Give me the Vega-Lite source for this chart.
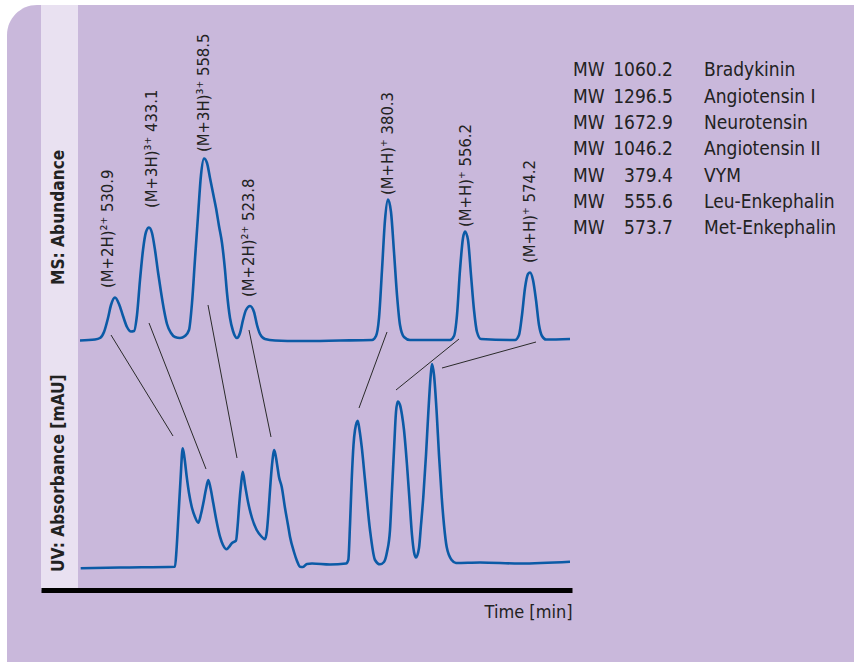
{
  "$schema": "https://vega.github.io/schema/vega-lite/v6.json",
  "width": 531,
  "height": 585,
  "autosize": {"type": "none"},
  "padding": {"left": 41, "top": 5, "right": 282, "bottom": 72},
  "background": "white",
  "config": {"view": {"stroke": null}},
  "datasets": {
    "traces": [
      {"trace":"MS","time":39,"signal":249.5},{"trace":"MS","time":54,"signal":250.5},{"trace":"MS","time":59,"signal":252},{"trace":"MS","time":63,"signal":258},{"trace":"MS","time":67,"signal":272},{"trace":"MS","time":70,"signal":285},{"trace":"MS","time":74,"signal":292.5},{"trace":"MS","time":78,"signal":286},{"trace":"MS","time":82,"signal":274},{"trace":"MS","time":86,"signal":263},{"trace":"MS","time":90,"signal":258.5},{"trace":"MS","time":93,"signal":259},{"trace":"MS","time":96,"signal":275},{"trace":"MS","time":99,"signal":310},{"trace":"MS","time":102,"signal":340},{"trace":"MS","time":105,"signal":358},{"trace":"MS","time":108,"signal":362.5},{"trace":"MS","time":111,"signal":357},{"trace":"MS","time":114,"signal":340},{"trace":"MS","time":117,"signal":318},{"trace":"MS","time":120,"signal":298},{"trace":"MS","time":123,"signal":280},{"trace":"MS","time":126,"signal":266},{"trace":"MS","time":130,"signal":257},{"trace":"MS","time":134,"signal":253},{"trace":"MS","time":139,"signal":252},{"trace":"MS","time":144,"signal":254},{"trace":"MS","time":148,"signal":260},{"trace":"MS","time":151,"signal":287},{"trace":"MS","time":154,"signal":331},{"trace":"MS","time":157,"signal":374},{"trace":"MS","time":160,"signal":415},{"trace":"MS","time":163,"signal":431.5},{"trace":"MS","time":166,"signal":427},{"trace":"MS","time":169,"signal":412},{"trace":"MS","time":172,"signal":397},{"trace":"MS","time":175,"signal":382},{"trace":"MS","time":178,"signal":364},{"trace":"MS","time":181,"signal":347},{"trace":"MS","time":184,"signal":320},{"trace":"MS","time":186,"signal":297},{"trace":"MS","time":189,"signal":272},{"trace":"MS","time":192,"signal":259},{"trace":"MS","time":196,"signal":252},{"trace":"MS","time":199,"signal":257},{"trace":"MS","time":202,"signal":270},{"trace":"MS","time":205,"signal":280},{"trace":"MS","time":209,"signal":284},{"trace":"MS","time":213,"signal":278},{"trace":"MS","time":216,"signal":265},{"trace":"MS","time":219,"signal":256},{"trace":"MS","time":224,"signal":251},{"trace":"MS","time":234,"signal":249.5},{"trace":"MS","time":259,"signal":249},{"trace":"MS","time":299,"signal":249.5},{"trace":"MS","time":331,"signal":250},{"trace":"MS","time":335,"signal":254},{"trace":"MS","time":338,"signal":272},{"trace":"MS","time":341,"signal":320},{"trace":"MS","time":344,"signal":370},{"trace":"MS","time":347,"signal":390.5},{"trace":"MS","time":350,"signal":378},{"trace":"MS","time":353,"signal":338},{"trace":"MS","time":356,"signal":295},{"trace":"MS","time":359,"signal":265},{"trace":"MS","time":363,"signal":253},{"trace":"MS","time":369,"signal":250},{"trace":"MS","time":409,"signal":250},{"trace":"MS","time":413,"signal":254},{"trace":"MS","time":416,"signal":275},{"trace":"MS","time":419,"signal":320},{"trace":"MS","time":422,"signal":352},{"trace":"MS","time":424,"signal":358.5},{"trace":"MS","time":427,"signal":350},{"trace":"MS","time":430,"signal":315},{"trace":"MS","time":433,"signal":280},{"trace":"MS","time":436,"signal":258},{"trace":"MS","time":440,"signal":251},{"trace":"MS","time":474,"signal":250},{"trace":"MS","time":478,"signal":255},{"trace":"MS","time":481,"signal":275},{"trace":"MS","time":484,"signal":302},{"trace":"MS","time":487,"signal":316},{"trace":"MS","time":489,"signal":317.5},{"trace":"MS","time":492,"signal":310},{"trace":"MS","time":495,"signal":290},{"trace":"MS","time":498,"signal":265},{"trace":"MS","time":501,"signal":254},{"trace":"MS","time":505,"signal":250.5},{"trace":"MS","time":529,"signal":251},
      {"trace":"UV","time":39.7,"signal":21.7},{"trace":"UV","time":79,"signal":22.5},{"trace":"UV","time":134,"signal":23.3},{"trace":"UV","time":135.5,"signal":40},{"trace":"UV","time":137.5,"signal":75},{"trace":"UV","time":139.5,"signal":110},{"trace":"UV","time":141.7,"signal":141.7},{"trace":"UV","time":143.5,"signal":132},{"trace":"UV","time":145.7,"signal":113.3},{"trace":"UV","time":148,"signal":97},{"trace":"UV","time":150.7,"signal":83.3},{"trace":"UV","time":154,"signal":73},{"trace":"UV","time":157.3,"signal":67.3},{"trace":"UV","time":160,"signal":76},{"trace":"UV","time":162.3,"signal":86.7},{"trace":"UV","time":165,"signal":101},{"trace":"UV","time":167.3,"signal":110},{"trace":"UV","time":169.5,"signal":102},{"trace":"UV","time":172.3,"signal":86.7},{"trace":"UV","time":175.5,"signal":69},{"trace":"UV","time":179,"signal":53.3},{"trace":"UV","time":182,"signal":45},{"trace":"UV","time":185.7,"signal":40.7},{"trace":"UV","time":188,"signal":43},{"trace":"UV","time":190.7,"signal":46.7},{"trace":"UV","time":195,"signal":49.3},{"trace":"UV","time":196.7,"signal":65},{"trace":"UV","time":198.3,"signal":86.7},{"trace":"UV","time":200,"signal":105},{"trace":"UV","time":201.7,"signal":118.3},{"trace":"UV","time":204,"signal":105},{"trace":"UV","time":207.3,"signal":86.7},{"trace":"UV","time":211,"signal":72},{"trace":"UV","time":215.7,"signal":60},{"trace":"UV","time":220,"signal":54},{"trace":"UV","time":224,"signal":50.7},{"trace":"UV","time":226,"signal":60},{"trace":"UV","time":227.5,"signal":78},{"trace":"UV","time":229,"signal":100},{"trace":"UV","time":231,"signal":125},{"trace":"UV","time":233.3,"signal":140},{"trace":"UV","time":236,"signal":126},{"trace":"UV","time":238,"signal":113},{"trace":"UV","time":240.7,"signal":103.3},{"trace":"UV","time":244,"signal":82},{"trace":"UV","time":247,"signal":65},{"trace":"UV","time":249,"signal":53.3},{"trace":"UV","time":253,"signal":38},{"trace":"UV","time":256,"signal":29},{"trace":"UV","time":259,"signal":23.3},{"trace":"UV","time":262,"signal":23},{"trace":"UV","time":266,"signal":26},{"trace":"UV","time":271,"signal":26.5},{"trace":"UV","time":289,"signal":25.5},{"trace":"UV","time":305,"signal":26.5},{"trace":"UV","time":307.3,"signal":30},{"trace":"UV","time":309,"signal":65},{"trace":"UV","time":310.7,"signal":110},{"trace":"UV","time":312.5,"signal":145},{"trace":"UV","time":314,"signal":160},{"trace":"UV","time":316.7,"signal":169.3},{"trace":"UV","time":318.5,"signal":160},{"trace":"UV","time":320.7,"signal":143.3},{"trace":"UV","time":324,"signal":110},{"trace":"UV","time":329,"signal":60},{"trace":"UV","time":334,"signal":30},{"trace":"UV","time":339,"signal":25.7},{"trace":"UV","time":343,"signal":28},{"trace":"UV","time":346,"signal":38},{"trace":"UV","time":349,"signal":60},{"trace":"UV","time":351,"signal":100},{"trace":"UV","time":353,"signal":140},{"trace":"UV","time":355,"signal":178},{"trace":"UV","time":356.7,"signal":188.5},{"trace":"UV","time":359,"signal":185},{"trace":"UV","time":361,"signal":175},{"trace":"UV","time":363,"signal":160},{"trace":"UV","time":366,"signal":125},{"trace":"UV","time":368.3,"signal":93},{"trace":"UV","time":371,"signal":55},{"trace":"UV","time":373,"signal":38},{"trace":"UV","time":375,"signal":32.5},{"trace":"UV","time":378,"signal":42},{"trace":"UV","time":380,"signal":65},{"trace":"UV","time":382.3,"signal":93},{"trace":"UV","time":385,"signal":135},{"trace":"UV","time":387.3,"signal":177},{"trace":"UV","time":389.5,"signal":212},{"trace":"UV","time":391,"signal":226},{"trace":"UV","time":393,"signal":215},{"trace":"UV","time":395.7,"signal":177},{"trace":"UV","time":398,"signal":135},{"trace":"UV","time":400.7,"signal":93},{"trace":"UV","time":403,"signal":65},{"trace":"UV","time":405.7,"signal":43},{"trace":"UV","time":410.7,"signal":30},{"trace":"UV","time":415,"signal":27},{"trace":"UV","time":439,"signal":27.5},{"trace":"UV","time":479,"signal":26.5},{"trace":"UV","time":529,"signal":28.3}
    ],
    "links": [
      {"ms_time":70,"ms_signal":255,"uv_time":132,"uv_signal":154},
      {"ms_time":108,"ms_signal":267,"uv_time":165,"uv_signal":121},
      {"ms_time":167,"ms_signal":285,"uv_time":196,"uv_signal":132},
      {"ms_time":208,"ms_signal":260,"uv_time":230,"uv_signal":153},
      {"ms_time":346,"ms_signal":258,"uv_time":318,"uv_signal":182},
      {"ms_time":418,"ms_signal":251,"uv_time":355,"uv_signal":200},
      {"ms_time":495,"ms_signal":248,"uv_time":401,"uv_signal":222}
    ],
    "ions": [
      {"label":"(M+2H)²⁺ 530.9","time":67,"signal":302},
      {"label":"(M+3H)³⁺ 433.1","time":111,"signal":382},
      {"label":"(M+3H)³⁺ 558.5","time":163,"signal":438},
      {"label":"(M+2H)²⁺ 523.8","time":208,"signal":293},
      {"label":"(M+H)⁺ 380.3","time":347,"signal":395},
      {"label":"(M+H)⁺ 556.2","time":425,"signal":363},
      {"label":"(M+H)⁺ 574.2","time":489,"signal":327}
    ],
    "peptides": [
      {"mw":"1060.2","peptide":"Bradykinin"},
      {"mw":"1296.5","peptide":"Angiotensin I"},
      {"mw":"1672.9","peptide":"Neurotensin"},
      {"mw":"1046.2","peptide":"Angiotensin II"},
      {"mw":"379.4","peptide":"VYM"},
      {"mw":"555.6","peptide":"Leu-Enkephalin"},
      {"mw":"573.7","peptide":"Met-Enkephalin"}
    ],
    "panels": [
      {"panel":"MS: Abundance","time":17.5,"signal":305},
      {"panel":"UV: Absorbance  [mAU]","time":18,"signal":18}
    ],
    "frame": [
      {"part":"card","x_from":-34,"x_to":900,"y_from":-200,"y_to":585},
      {"part":"strip","x_from":0,"x_to":37,"y_from":0,"y_to":585}
    ]
  },
  "layer": [
    {
      "data": {"name": "frame"},
      "transform": [{"filter": "datum.part === 'card'"}],
      "mark": {"type": "rect", "color": "#c9b8db", "cornerRadius": 30},
      "encoding": {
        "x": {"field": "x_from", "type": "quantitative", "scale": {"domain": [0, 531], "nice": false, "zero": false}},
        "x2": {"field": "x_to"},
        "y": {"field": "y_from", "type": "quantitative", "scale": {"domain": [0, 585], "nice": false, "zero": false}, "axis": null},
        "y2": {"field": "y_to"}
      }
    },
    {
      "data": {"name": "frame"},
      "transform": [{"filter": "datum.part === 'strip'"}],
      "mark": {"type": "rect", "color": "#e9e1f1"},
      "encoding": {
        "x": {"field": "x_from", "type": "quantitative"},
        "x2": {"field": "x_to"},
        "y": {"field": "y_from", "type": "quantitative", "scale": {"domain": [0, 585], "nice": false, "zero": false}, "axis": null},
        "y2": {"field": "y_to"}
      }
    },
    {
      "data": {"name": "traces"},
      "mark": {"type": "line", "color": "#0b5aa6", "strokeWidth": 2.6, "interpolate": "monotone", "strokeJoin": "round"},
      "encoding": {
        "x": {"field": "time", "type": "quantitative",
              "axis": {"title": "Time [min]", "zindex": 2, "domain": true, "domainColor": "#000000", "domainWidth": 5, "ticks": false, "labels": false, "grid": false,
                       "titleAnchor": "end", "titleAlign": "right", "titleFont": "DejaVu Sans Condensed, Liberation Sans, sans-serif", "titleFontSize": 18, "titleFontWeight": "normal", "titleColor": "#222222", "titlePadding": 13}},
        "y": {"field": "signal", "type": "quantitative", "scale": {"domain": [0, 585], "nice": false, "zero": false}, "axis": null},
        "detail": {"field": "trace"}
      }
    },
    {
      "data": {"name": "links"},
      "mark": {"type": "rule", "color": "#2a2a2a", "strokeWidth": 1},
      "encoding": {
        "x": {"field": "ms_time", "type": "quantitative"},
        "y": {"field": "ms_signal", "type": "quantitative", "scale": {"domain": [0, 585], "nice": false, "zero": false}, "axis": null},
        "x2": {"field": "uv_time"},
        "y2": {"field": "uv_signal"}
      }
    },
    {
      "data": {"name": "ions"},
      "mark": {"type": "text", "angle": 270, "align": "left", "baseline": "middle", "font": "DejaVu Sans Condensed, Liberation Sans, sans-serif", "fontSize": 16.5, "color": "#222222"},
      "encoding": {
        "x": {"field": "time", "type": "quantitative"},
        "y": {"field": "signal", "type": "quantitative", "scale": {"domain": [0, 585], "nice": false, "zero": false}, "axis": null},
        "text": {"field": "label"}
      }
    },
    {
      "data": {"name": "panels"},
      "mark": {"type": "text", "angle": 270, "align": "left", "baseline": "middle", "font": "DejaVu Sans Condensed, Liberation Sans Narrow, sans-serif", "fontWeight": "bold", "fontSize": 17.2, "color": "#222222"},
      "encoding": {
        "x": {"field": "time", "type": "quantitative"},
        "y": {"field": "signal", "type": "quantitative", "scale": {"domain": [0, 585], "nice": false, "zero": false}, "axis": null},
        "text": {"field": "panel"}
      }
    },
    {
      "data": {"name": "peptides"},
      "mark": {"type": "text", "text": "MW", "align": "left", "baseline": "middle", "font": "DejaVu Sans Condensed, Liberation Sans, sans-serif", "fontSize": 19, "color": "#222222"},
      "encoding": {
        "x": {"datum": 532, "type": "quantitative"},
        "y": {"field": "peptide", "type": "nominal", "sort": null, "scale": {"type": "point", "range": [65.3, 223.1], "padding": 0}, "axis": null}
      }
    },
    {
      "data": {"name": "peptides"},
      "mark": {"type": "text", "align": "right", "baseline": "middle", "font": "DejaVu Sans Condensed, Liberation Sans, sans-serif", "fontSize": 19, "color": "#222222"},
      "encoding": {
        "x": {"datum": 632, "type": "quantitative"},
        "y": {"field": "peptide", "type": "nominal", "sort": null, "scale": {"type": "point", "range": [65.3, 223.1], "padding": 0}, "axis": null},
        "text": {"field": "mw"}
      }
    },
    {
      "data": {"name": "peptides"},
      "mark": {"type": "text", "align": "left", "baseline": "middle", "font": "DejaVu Sans Condensed, Liberation Sans, sans-serif", "fontSize": 19, "color": "#222222"},
      "encoding": {
        "x": {"datum": 663, "type": "quantitative"},
        "y": {"field": "peptide", "type": "nominal", "sort": null, "scale": {"type": "point", "range": [65.3, 223.1], "padding": 0}, "axis": null},
        "text": {"field": "peptide"}
      }
    }
  ],
  "resolve": {"scale": {"y": "independent"}}
}
